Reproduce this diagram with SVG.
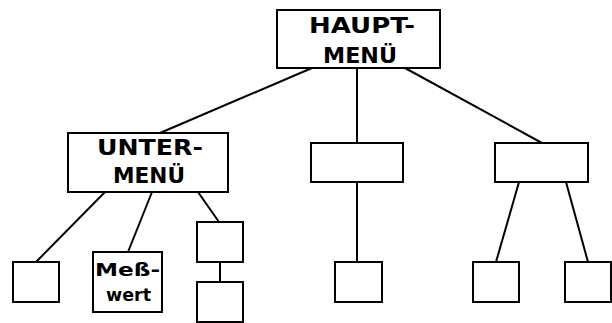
<svg xmlns="http://www.w3.org/2000/svg" width="612" height="323" viewBox="0 0 612 323">
<style>
.n{fill:#fff;stroke:#000;stroke-width:2}
line{stroke:#000;stroke-width:2}
text{font-family:"DejaVu Sans","Liberation Sans",sans-serif;font-weight:bold;fill:#000}
.big{font-size:21px}
.sm{font-size:18px}
</style>
<rect width="612" height="323" fill="#fff"/>
<g id="connectors">
<line x1="312" y1="68" x2="160" y2="133"/>
<line x1="357" y1="68" x2="357" y2="143"/>
<line x1="405" y1="68" x2="542" y2="143"/>
<line x1="105" y1="192" x2="36" y2="262"/>
<line x1="152" y1="192" x2="128" y2="252"/>
<line x1="198" y1="192" x2="219" y2="222"/>
<line x1="220" y1="262" x2="220" y2="282"/>
<line x1="357" y1="182" x2="357" y2="262"/>
<line x1="519" y1="182" x2="496" y2="262"/>
<line x1="566" y1="182" x2="588" y2="262"/>
</g>
<g id="hauptmenu">
<rect class="n" x="277" y="10" width="163" height="58"/>
<text class="big" x="309" y="33" textLength="106" lengthAdjust="spacingAndGlyphs">HAUPT-</text>
<text class="big" x="323" y="63" textLength="74" lengthAdjust="spacingAndGlyphs">MENÜ</text>
</g>
<g id="untermenu">
<rect class="n" x="68" y="133" width="160" height="59"/>
<text class="big" x="97" y="155" textLength="106" lengthAdjust="spacingAndGlyphs">UNTER-</text>
<text class="big" x="113" y="183" textLength="72" lengthAdjust="spacingAndGlyphs">MENÜ</text>
</g>
<g id="mid"><rect class="n" x="311" y="143" width="92" height="39"/></g>
<g id="right"><rect class="n" x="495" y="143" width="93" height="39"/></g>
<g id="leaf1"><rect class="n" x="13" y="262" width="46" height="40"/></g>
<g id="messwert">
<rect class="n" x="93" y="252" width="69" height="60"/>
<text class="sm" x="95" y="276" textLength="65" lengthAdjust="spacingAndGlyphs">Meß-</text>
<text class="sm" x="106" y="301" textLength="45" lengthAdjust="spacingAndGlyphs">wert</text>
</g>
<g id="leaf3"><rect class="n" x="197" y="222" width="46" height="40"/></g>
<g id="leaf4"><rect class="n" x="197" y="282" width="46" height="40"/></g>
<g id="leaf5"><rect class="n" x="335" y="262" width="47" height="40"/></g>
<g id="leaf6"><rect class="n" x="473" y="262" width="46" height="40"/></g>
<g id="leaf7"><rect class="n" x="565" y="262" width="46" height="40"/></g>
</svg>
